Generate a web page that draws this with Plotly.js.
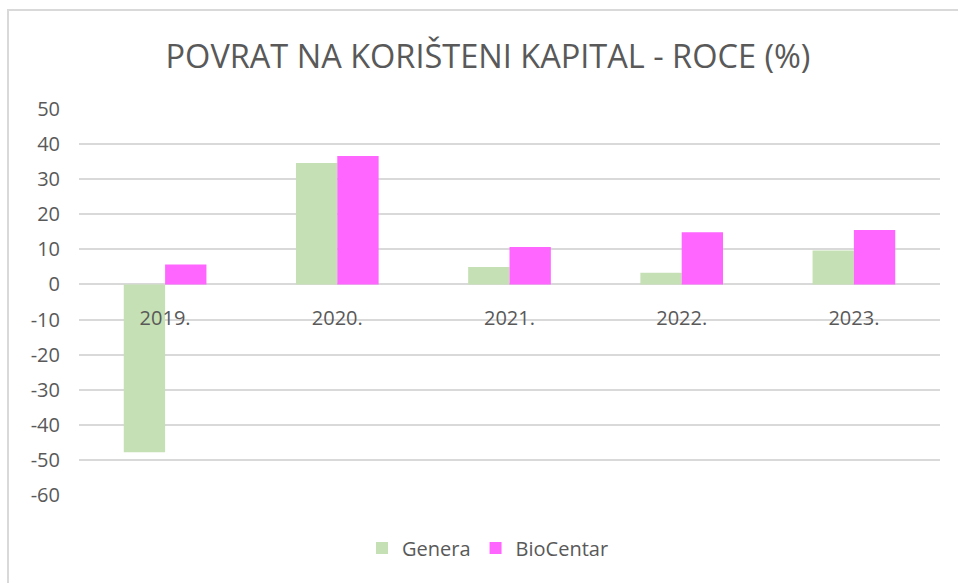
<!DOCTYPE html>
<html>
<head>
<meta charset="utf-8">
<script src="https://cdn.plot.ly/plotly-3.0.1.min.js"></script>
<style>
  html, body { margin: 0; padding: 0; background: #ffffff; }
  #wrap { position: relative; width: 958px; height: 583px; }
  #frame { position: absolute; left: 7px; top: 9px; width: 960px; height: 600px;
           border-left: 2px solid #d9d9d9; border-top: 2px solid #d9d9d9; pointer-events: none; z-index: 5; }
  #chart { position: absolute; left: 0; top: 0; width: 958px; height: 583px; }
</style>
</head>
<body>
<div id="wrap">
  <div id="chart"></div>
  <div id="frame"></div>
</div>
<script>
const categories = ['2019.', '2020.', '2021.', '2022.', '2023.'];
const genera = [-47.8, 34.6, 5.0, 3.3, 9.7];
const bioCentar = [5.7, 36.6, 10.7, 14.9, 15.5];
const yTicks = [50, 40, 30, 20, 10, 0, -10, -20, -30, -40, -50, -60];
const chartTitle = 'POVRAT NA KORIŠTENI KAPITAL - ROCE (%)';

const textColor = '#595959';
const fontFamily = '"Open Sans", "Noto Sans", sans-serif';

const traces = [
  { type: 'bar', name: 'Genera', x: categories, y: genera,
    marker: { color: '#c5e0b4', line: { width: 0 } } },
  { type: 'bar', name: 'BioCentar', x: categories, y: bioCentar,
    marker: { color: '#ff66ff', line: { width: 0 } } }
];

const layout = {
  width: 958, height: 583,
  margin: { l: 79, r: 18, t: 109, b: 88, pad: 0 },
  paper_bgcolor: 'rgba(0,0,0,0)',
  plot_bgcolor: 'rgba(0,0,0,0)',
  font: { family: fontFamily, color: textColor, size: 20 },
  title: { text: chartTitle, font: { family: fontFamily, size: 32.5, color: textColor },
           x: 488 / 958, xref: 'container', xanchor: 'center',
           y: 1 - 57 / 583, yref: 'container', yanchor: 'middle' },
  barmode: 'group', bargap: 0.52, bargroupgap: 0,
  showlegend: true,
  legend: { orientation: 'h', x: (488 - 79) / 861, xanchor: 'center',
            y: (495 - 548) / 386, yanchor: 'middle',
            font: { family: fontFamily, size: 20, color: textColor } },
  xaxis: { type: 'category', anchor: 'free', position: 60 / 110,
           showline: false, ticks: '', showgrid: false, zeroline: false,
           ticklabelstandoff: 20, tickfont: { family: fontFamily, size: 20, color: textColor } },
  yaxis: { range: [-60, 50], tickvals: yTicks, ticktext: yTicks.map(String),
           showgrid: true, gridcolor: '#d9d9d9', gridwidth: 2,
           zeroline: true, zerolinecolor: '#d9d9d9', zerolinewidth: 2,
           showline: false, ticks: '', ticklabelstandoff: 18,
           tickfont: { family: fontFamily, size: 20, color: textColor } }
};

Plotly.newPlot('chart', traces, layout, { displayModeBar: false, staticPlot: true });
</script>
</body>
</html>
